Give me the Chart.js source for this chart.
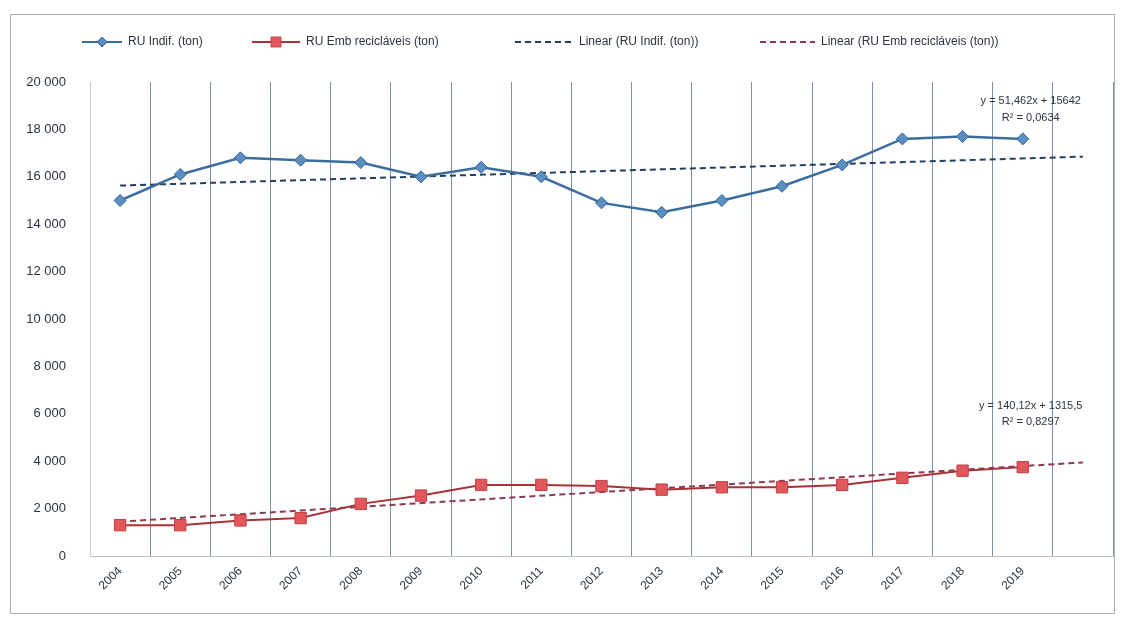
<!DOCTYPE html>
<html>
<head>
<meta charset="utf-8">
<script src="https://cdn.jsdelivr.net/npm/chart.js@4.4.1/dist/chart.umd.min.js"></script>
<style>
  body { margin: 0; background: #fff; }
  #wrap { position: relative; width: 1125px; height: 618px; }
  #frame { position: absolute; left: 10px; top: 14px; width: 1103px; height: 598px;
           border: 1px solid #a9b3bf; pointer-events: none; }
</style>
</head>
<body>
<div id="wrap">
  <canvas id="chart" width="1125" height="618"></canvas>
  <div id="frame"></div>
</div>
<script>
// categories (last slot only carries the trend lines)
let years = ['2004', '2005', '2006', '2007', '2008', '2009', '2010', '2011',
             '2012', '2013', '2014', '2015', '2016', '2017', '2018', '2019', ''];

let ruIndif = [15000, 16100, 16800, 16700, 16600, 16000, 16400, 16000,
               14900, 14500, 15000, 15600, 16500, 17600, 17700, 17600];
let ruEmb = [1300, 1300, 1500, 1600, 2200, 2550, 3000, 3000,
             2950, 2800, 2900, 2900, 3000, 3300, 3600, 3750];

// trend line end points
let trendIndif = [15630, null, null, null, null, null, null, null,
                  null, null, null, null, null, null, null, null, 16850];
let trendEmb = [1450, null, null, null, null, null, null, null,
                null, null, null, null, null, null, null, null, 3950];

let labels = ['RU Indif. (ton)', 'RU Emb recicláveis (ton)',
              'Linear (RU Indif. (ton))', 'Linear (RU Emb recicláveis (ton))'];
let equations = [
    { lines: ['y = 51,462x + 15642', 'R² = 0,0634'], at: 15, y: [19200, 18500] },
    { lines: ['y = 140,12x + 1315,5', 'R² = 0,8297'], at: 15, y: [6350, 5650] }
];

let fontFamily = '"Liberation Sans", Arial, sans-serif';
let textColor = '#2b3440';

let spaced = v => String(v).replace(/\B(?=(\d{3})+(?!\d))/g, ' ');

// excel-like legend: line segment with marker, then text
let legendPlugin = {
    id: 'xlLegend',
    afterDraw(chart) {
        let ctx = chart.ctx;
        let starts = [82, 252, 515, 760];
        let lens = [40, 48, 58, 55];
        ctx.save();
        ctx.font = '12px ' + fontFamily;
        ctx.textBaseline = 'middle';
        chart.data.datasets.forEach((ds, i) => {
            let x = starts[i], y = 42, w = lens[i];
            ctx.strokeStyle = ds.borderColor;
            ctx.lineWidth = 2;
            ctx.setLineDash(ds.borderDash || []);
            ctx.beginPath();
            ctx.moveTo(x, y);
            ctx.lineTo(x + w, y);
            ctx.stroke();
            ctx.setLineDash([]);
            if (ds.pointRadius) {
                ctx.fillStyle = ds.pointBackgroundColor;
                ctx.strokeStyle = ds.pointBorderColor;
                ctx.lineWidth = 1;
                Chart.helpers.drawPoint(ctx, {
                    pointStyle: ds.pointStyle, radius: ds.pointRadius - 1, borderWidth: 1
                }, x + w / 2, y);
            }
            ctx.fillStyle = textColor;
            ctx.fillText(ds.label, x + w + 6, y);
        });
        ctx.restore();
    }
};

let equationPlugin = {
    id: 'equations',
    afterDraw(chart) {
        let ctx = chart.ctx;
        let xs = chart.scales.x, ys = chart.scales.y;
        ctx.save();
        ctx.font = '11px ' + fontFamily;
        ctx.fillStyle = textColor;
        ctx.textAlign = 'center';
        ctx.textBaseline = 'middle';
        equations.forEach(eq => {
            let x = xs.getPixelForValue(eq.at) + 8;
            eq.lines.forEach((t, i) => ctx.fillText(t, x, ys.getPixelForValue(eq.y[i])));
        });
        ctx.restore();
    }
};

let ctx = document.getElementById('chart').getContext('2d');

window.wasteLine = new Chart(ctx, {
    type: 'line',
    data: {
        labels: years,
        datasets: [{
            label: labels[0],
            data: ruIndif,
            borderColor: '#3d6d9e',
            borderWidth: 2.5,
            pointStyle: 'rectRot',
            pointRadius: 6,
            pointBackgroundColor: '#5b8fc4',
            pointBorderColor: '#34618f',
            pointBorderWidth: 1,
            fill: false,
            tension: 0
        }, {
            label: labels[1],
            data: ruEmb,
            borderColor: '#a8323a',
            borderWidth: 2,
            pointStyle: 'rect',
            pointRadius: 8,
            pointBackgroundColor: '#e2575c',
            pointBorderColor: '#c23d44',
            pointBorderWidth: 1,
            fill: false,
            tension: 0
        }, {
            label: labels[2],
            data: trendIndif,
            borderColor: '#23415f',
            borderWidth: 2,
            borderDash: [6, 4],
            pointRadius: 0,
            spanGaps: true,
            fill: false
        }, {
            label: labels[3],
            data: trendEmb,
            borderColor: '#8a3b52',
            borderWidth: 2,
            borderDash: [6, 4],
            pointRadius: 0,
            spanGaps: true,
            fill: false
        }]
    },
    options: {
        responsive: false,
        animation: false,
        layout: { padding: { top: 82, left: 10, right: 12, bottom: 16 } },
        plugins: {
            legend: { display: false },
            tooltip: { enabled: false }
        },
        scales: {
            x: {
                offset: true,
                grid: { offset: true, color: '#7f90a6', lineWidth: 1, drawTicks: false },
                border: { color: '#b9c0c8' },
                ticks: {
                    minRotation: 45, maxRotation: 45, padding: 8,
                    color: textColor, font: { family: fontFamily, size: 12 }
                },
                afterFit: s => { s.height = 46; }
            },
            y: {
                min: 0, max: 20000,
                grid: { display: false },
                border: { color: '#c9ced4' },
                ticks: {
                    stepSize: 2000, padding: 16,
                    color: textColor, font: { family: fontFamily, size: 13 },
                    callback: v => spaced(v)
                },
                afterFit: s => { s.width = 80; }
            }
        }
    },
    plugins: [legendPlugin, equationPlugin]
});
</script>
</body>
</html>
